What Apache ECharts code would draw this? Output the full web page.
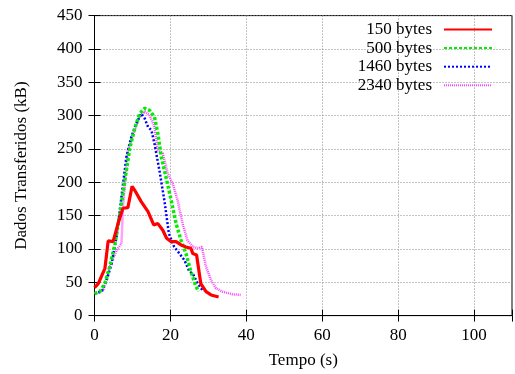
<!DOCTYPE html>
<html><head><meta charset="utf-8">
<script src="https://cdn.jsdelivr.net/npm/echarts@6/dist/echarts.min.js"></script>
<style>html,body{margin:0;padding:0;background:#fff}#c{width:515px;height:374px}</style>
</head><body><div id="c"></div>
<script>
const seriesNames = ['150 bytes', '500 bytes', '1460 bytes', '2340 bytes'];
const xTicks = [0, 20, 40, 60, 80, 100];
const yTicks = [0, 50, 100, 150, 200, 250, 300, 350, 400, 450];
const data150 = [[0,42],[1,48],[2.75,71],[3.6,112],[4.9,111],[6.2,138],[7.5,161],[8.8,162],[9.9,194],[10.6,188],[12.3,171],[14.1,156],[15.6,136],[16.7,138],[18,128],[19,116],[20.2,111],[21.5,111],[22.8,106],[24.1,103],[25.4,101],[25.9,93],[26.9,91],[28,48],[29.4,36],[30.7,31],[32.7,28]];
const data500 = [[0,33],[1.4,36],[2.7,48],[4,73],[5.4,108],[6.7,153],[8,203],[9.3,251],[10.6,281],[11.9,303],[13.2,311],[14.5,308],[15.8,298],[16.7,273],[17.6,238],[18.9,206],[20.2,173],[21.5,138],[22.8,113],[24.1,93],[25.4,66],[26.6,46],[27.4,36]];
const data1460 = [[0,33],[1.9,36],[3.2,53],[4.5,78],[5.8,118],[7.1,178],[8.4,238],[9.7,268],[11,288],[12.3,303],[13.2,296],[14.1,283],[15,278],[15.8,258],[17.1,218],[18.4,173],[19.6,123],[21,103],[22.4,93],[23.7,83],[25,66],[25.9,63],[27.2,48],[28.7,36]];
const data2340 = [[0,33],[2.3,38],[4,73],[5.8,98],[7.1,108],[7.5,163],[8.8,248],[10.6,278],[11.9,298],[13.2,306],[14.5,301],[15.8,283],[16.7,248],[18,243],[19.3,213],[20.6,198],[21.9,173],[23.2,138],[24.5,113],[25.9,103],[27.4,101],[28.3,103],[29.4,73],[30.7,53],[32,41],[33.7,36],[36.3,32],[38.5,31]];

const font = 'Liberation Serif';
const chart = echarts.init(document.getElementById('c'));
const gridLine = {show: true, lineStyle: {color: '#8a8a8a', width: 1, type: [1, 2]}};
const styles = [
  {color: '#ff0000', width: 3.2, type: 'solid'},
  {color: '#00ee00', width: 3.5, type: [3, 2]},
  {color: '#0000ff', width: 2.5, type: [2, 2]},
  {color: '#ff44ff', width: 2.5, type: [1, 1]}
];
const datas = [data150, data500, data1460, data2340];
chart.setOption({
  animation: false,
  textStyle: {fontFamily: font},
  grid: {left: 94.5, right: 0.5, top: 15.6, bottom: 58.4, show: true, borderColor: '#000', borderWidth: 1},
  legend: {
    orient: 'vertical', align: 'right', right: 17, top: 16,
    itemWidth: 48, itemHeight: 10, itemGap: 1.6,
    itemStyle: {opacity: 0},
    textStyle: {fontFamily: font, fontSize: 17, lineHeight: 17, color: '#000', padding: [0, 7, 0, 0]},
    data: seriesNames
  },
  xAxis: [{
    type: 'value', min: 0, max: 110, interval: 20,
    name: 'Tempo (s)', nameLocation: 'middle', nameGap: 36,
    nameTextStyle: {fontFamily: font, fontSize: 17, color: '#000'},
    axisLine: {lineStyle: {color: '#000'}},
    axisTick: {inside: true, length: 6, lineStyle: {color: '#000'}},
    axisLabel: {fontFamily: font, fontSize: 17, color: '#000', margin: 11, formatter: v => xTicks.includes(v) ? String(v) : ''},
    splitLine: gridLine
  }, {
    type: 'value', min: 0, max: 110, interval: 20, position: 'top',
    axisLine: {show: false}, axisTick: {inside: true, length: 6, lineStyle: {color: '#000'}},
    axisLabel: {show: false}, splitLine: {show: false}
  }],
  yAxis: [{
    type: 'value', min: 0, max: 450, interval: 50,
    name: 'Dados Transferidos (kB)', nameLocation: 'middle', nameGap: 64,
    nameTextStyle: {fontFamily: font, fontSize: 17, color: '#000'},
    axisLine: {show: true, lineStyle: {color: '#000'}},
    axisTick: {show: true, inside: true, length: 6, lineStyle: {color: '#000'}},
    axisLabel: {fontFamily: font, fontSize: 17, color: '#000', margin: 12, formatter: v => yTicks.includes(v) ? String(v) : ''},
    splitLine: gridLine
  }, {
    type: 'value', min: 0, max: 450, interval: 50, position: 'right',
    axisLine: {show: false}, axisTick: {show: true, inside: true, length: 6, lineStyle: {color: '#000'}},
    axisLabel: {show: false}, splitLine: {show: false}
  }],
  series: seriesNames.map((n, i) => ({
    name: n, type: 'line', data: datas[i], showSymbol: false, symbol: 'none',
    itemStyle: {color: styles[i].color},
    lineStyle: styles[i], z: 10 - i
  }))
});
</script></body></html>
